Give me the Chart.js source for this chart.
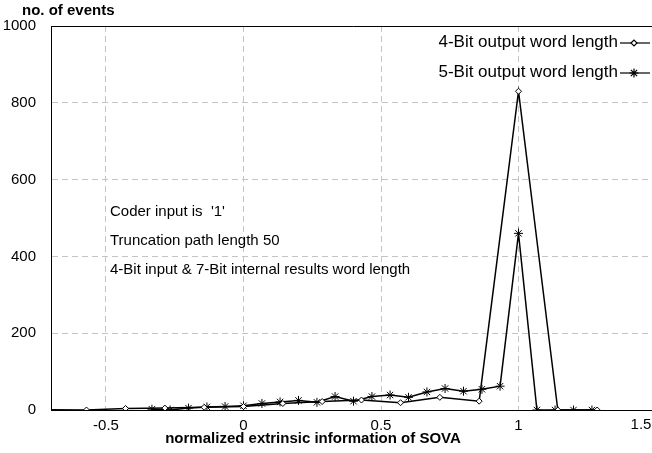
<!DOCTYPE html>
<html>
<head>
<meta charset="utf-8">
<script src="https://cdn.jsdelivr.net/npm/chart.js@4.4.1/dist/chart.umd.min.js"></script>
<style>
  html, body { margin: 0; padding: 0; background: #fff; overflow: hidden; }
  #wrap { width: 663px; height: 453px; }
</style>
</head>
<body>
<div id="wrap"><canvas id="chart" width="663" height="453"></canvas></div>
<script>
// x positions of the quantisation levels
const x4bit = [-0.714, -0.571, -0.429, -0.286, -0.143, 0, 0.143, 0.286, 0.429, 0.571, 0.714, 0.857, 1, 1.143, 1.286];
const y4bit = [1, 0, 4, 5, 7, 9, 17, 22, 26, 19, 33, 23, 830, 0, 0];

const x5bit = [-0.333, -0.267, -0.2, -0.133, -0.067, 0, 0.067, 0.133, 0.2, 0.267, 0.333, 0.4, 0.467, 0.533, 0.6, 0.667, 0.733, 0.8, 0.867, 0.933, 1, 1.067, 1.133, 1.2, 1.267];
const y5bit = [2, 0, 5, 8, 9, 11, 17, 21, 25, 20, 35, 23, 35, 39, 33, 47, 56, 49, 54, 62, 460, 0, 0, 0, 0];

const xTicks = [-0.5, 0, 0.5, 1, 1.5];
const seriesNames = ['4-Bit output word length', '5-Bit output word length'];
const notes = ["Coder input is  '1'", 'Truncation path length 50', '4-Bit input & 7-Bit internal results word length'];

const FONT = '"Liberation Sans", Arial, Helvetica, sans-serif';

function pts(xs, ys) {
  return xs.map((x, i) => ({ x: x, y: ys[i] }));
}

const styles = [
  { pointStyle: 'rectRot', radius: 3, backgroundColor: '#fff' },
  { pointStyle: 'star', radius: 4.5, backgroundColor: '#000' }
];

// frame, notes, legend and axis titles
const extras = {
  id: 'extras',
  afterDraw(chart) {
    const ctx = chart.ctx;
    const a = chart.chartArea;
    ctx.save();
    ctx.strokeStyle = '#000';
    ctx.lineWidth = 1;
    ctx.beginPath();
    ctx.moveTo(a.left, a.top + 0.5);
    ctx.lineTo(a.right, a.top + 0.5);
    ctx.stroke();

    ctx.fillStyle = '#000';
    ctx.font = 'bold 15px ' + FONT;
    ctx.textBaseline = 'middle';
    ctx.textAlign = 'left';
    ctx.fillText('no. of events', 22, 11);
    ctx.textAlign = 'center';
    ctx.fillText('normalized extrinsic information of SOVA', 313, 439);

    // last x tick label sits at the clipped right edge
    ctx.font = '15px ' + FONT;
    ctx.fillText('1.5', 641, 425);

    ctx.textAlign = 'left';
    notes.forEach((t, i) => ctx.fillText(t, 110, 212 + i * 29));

    ctx.font = '17px ' + FONT;
    ctx.textAlign = 'right';
    seriesNames.forEach((name, i) => {
      const y = 42 + i * 30;
      ctx.fillStyle = '#000';
      ctx.fillText(name, 618, y);
      ctx.beginPath();
      ctx.lineWidth = 1.2;
      ctx.moveTo(620, y + 1);
      ctx.lineTo(650, y + 1);
      ctx.stroke();
      ctx.fillStyle = styles[i].backgroundColor;
      Chart.helpers.drawPoint(ctx, {
        pointStyle: styles[i].pointStyle,
        radius: styles[i].radius,
        borderWidth: 1,
        rotation: 0
      }, 634, y + 1);
    });
    ctx.restore();
  }
};

const gridStyle = { color: '#c4c4c4', drawTicks: false, lineWidth: 1 };
const borderStyle = { display: true, color: '#000', width: 1, dash: [6, 4] };

new Chart(document.getElementById('chart'), {
  type: 'scatter',
  data: {
    datasets: [
      {
        label: seriesNames[0],
        data: pts(x4bit, y4bit),
        showLine: true,
        borderColor: '#000',
        borderWidth: 1.5,
        pointStyle: styles[0].pointStyle,
        pointRadius: styles[0].radius,
        pointBorderWidth: 1,
        pointBackgroundColor: styles[0].backgroundColor,
        pointBorderColor: '#000'
      },
      {
        label: seriesNames[1],
        data: pts(x5bit, y5bit),
        showLine: true,
        borderColor: '#000',
        borderWidth: 1.5,
        pointStyle: styles[1].pointStyle,
        pointRadius: styles[1].radius,
        pointBorderWidth: 1,
        pointBackgroundColor: '#000',
        pointBorderColor: '#000'
      }
    ]
  },
  options: {
    responsive: false,
    animation: false,
    layout: { padding: { top: 26, left: 0, right: 0, bottom: 0 } },
    plugins: {
      legend: { display: false },
      tooltip: { enabled: false }
    },
    scales: {
      x: {
        type: 'linear',
        min: -0.7,
        max: 1.5,
        afterBuildTicks(scale) {
          scale.ticks = xTicks.map(v => ({ value: v }));
        },
        afterFit(scale) { scale.height = 43; },
        grid: gridStyle,
        border: borderStyle,
        ticks: {
          color: '#000',
          padding: 7,
          maxRotation: 0,
          font: { family: FONT, size: 15 },
          callback: v => (v === 1.5 ? '' : String(v))
        }
      },
      y: {
        min: 0,
        max: 1000,
        afterFit(scale) { scale.width = 51; },
        grid: gridStyle,
        border: borderStyle,
        ticks: {
          color: '#000',
          stepSize: 200,
          padding: 15,
          font: { family: FONT, size: 15 },
          callback: v => String(v)
        }
      }
    }
  },
  plugins: [extras]
});
</script>
</body>
</html>
